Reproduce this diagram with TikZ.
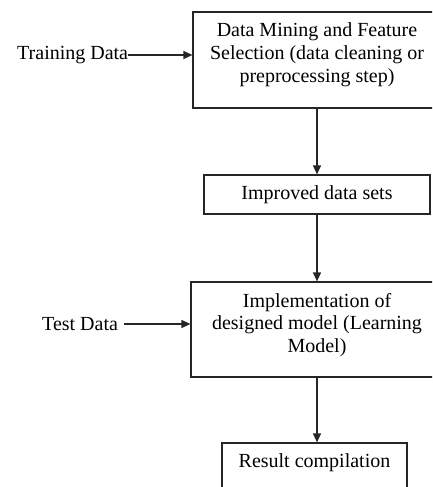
\documentclass[tikz,border=0pt]{standalone}
\usepackage{fontspec}
\setmainfont{Liberation Serif}
\usetikzlibrary{arrows.meta}
\begin{document}
\begin{tikzpicture}[x=1pt,y=-1pt,
  box/.style={draw=black!85,line width=1.2pt,rectangle,inner sep=0pt},
  txt/.style={inner sep=0pt,align=center,font=\fontsize{20}{22.8}\selectfont},
  flow/.style={draw=black!85,line width=1.2pt,-{Triangle[length=9pt,width=8pt]}}]
  \useasboundingbox (0,0) rectangle (432,487);
  \clip (0,0) rectangle (432,487);
  % process boxes (the right and bottom edges run past the frame)
  \node[box,minimum width=248pt,minimum height=96pt] (b1) at (317,60) {};
  \node[txt] (t1) at (317,55) {Data Mining and Feature\\Selection (data cleaning or\\preprocessing step)};
  \node[box,minimum width=226pt,minimum height=39pt] (b2) at (317,194.5) {};
  \node[txt] (t2) at (317,195) {Improved data sets};
  \node[box,minimum width=250pt,minimum height=95pt] (b3) at (316,329.5) {};
  \node[txt] (t3) at (317,325) {Implementation of\\designed model (Learning\\Model)};
  \node[box,minimum width=185pt,minimum height=80pt] (b4) at (314.5,483) {};
  \node[txt] (t4) at (314.5,463) {Result compilation};
  % inputs
  \node[txt,anchor=west] (train) at (17,55) {Training Data};
  \node[txt,anchor=west] (test) at (42,324) {Test Data};
  % connectors
  \draw[flow] (train.east) -- (train.east -| b1.west);
  \draw[flow] ([xshift=6pt]test.east) -- (test.east -| b3.west);
  \draw[flow] (b2.north |- b1.south) -- (b2.north);
  \draw[flow] (b2.south) -- (b2.south |- b3.north);
  \draw[flow] (b2.south |- b3.south) -- (b2.south |- b4.north);
\end{tikzpicture}
\end{document}
